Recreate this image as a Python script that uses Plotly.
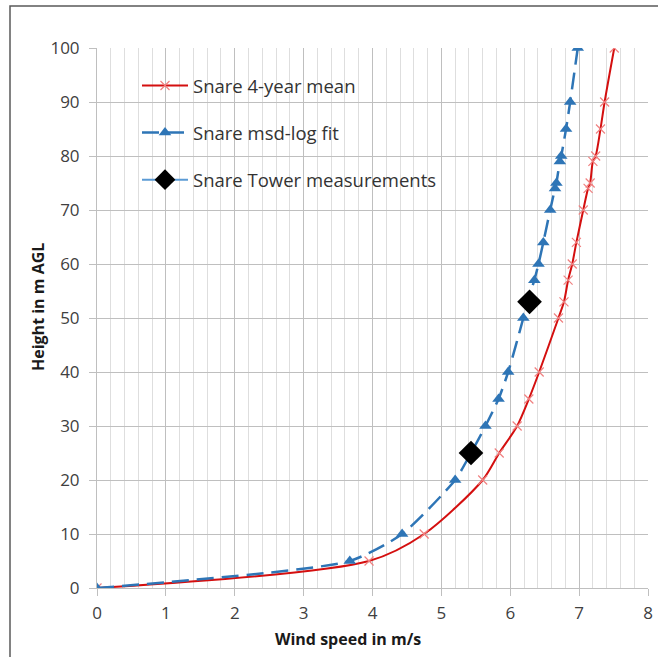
import plotly.graph_objects as go

heights = [0, 5, 10, 20, 25, 30, 35, 40, 50, 53, 57, 60, 64, 70, 74, 75, 79, 80, 85, 90, 100]
mean_ws = [0, 3.95, 4.75, 5.6, 5.84, 6.1, 6.27, 6.42, 6.7, 6.78, 6.84, 6.9, 6.96, 7.06, 7.13, 7.16, 7.2, 7.24, 7.31, 7.37, 7.51]
fit_ws = [0, 3.67, 4.43, 5.2, 5.43, 5.64, 5.83, 5.97, 6.19, 6.25, 6.35, 6.41, 6.48, 6.58, 6.65, 6.67, 6.72, 6.74, 6.81, 6.87, 6.98]
tower_h = [25, 53]
tower_ws = [5.43, 6.28]

x_ticks = [0, 1, 2, 3, 4, 5, 6, 7, 8]
y_ticks = [0, 10, 20, 30, 40, 50, 60, 70, 80, 90, 100]

RED = "#D40F0F"
BLUE = "#2E75B6"
LBLUE = "#5B9BD5"
FONT = "Open Sans"

W, H = 658, 657
ML, MR, MT, MB = 97, 10, 48, 69
PW, PH = W - ML - MR, H - MT - MB
OFF = 0


def px(xp):
    return (xp - OFF - ML) / PW


def py(yp):
    return (PH + MT - (yp - OFF)) / PH


fig = go.Figure()
fig.add_trace(go.Scatter(
    x=mean_ws, y=heights, mode="lines+markers", name="Snare 4-year mean",
    line=dict(color=RED, width=2, shape="spline", smoothing=0.8),
    marker=dict(symbol="x-thin", size=9, line=dict(color="#F08080", width=1.2), color="#F08080"),
    legendgroup="a",
))
fig.add_trace(go.Scatter(
    x=fit_ws, y=heights, mode="lines+markers", name="Snare msd-log fit",
    line=dict(color=BLUE, width=2.5, dash="17px,8px", shape="spline", smoothing=0.6),
    marker=dict(symbol="triangle-up", size=11, color=BLUE),
    legendgroup="b",
))
fig.add_trace(go.Scatter(
    x=tower_ws, y=tower_h, mode="markers", name="Snare Tower measurements",
    marker=dict(symbol="diamond", size=19, color="black"),
    showlegend=False, legendgroup="c",
))
fig.add_trace(go.Scatter(
    x=[None], y=[None], mode="lines+markers", name="Snare Tower measurements",
    line=dict(color=LBLUE, width=2),
    marker=dict(symbol="diamond", size=17, color="black"),
    legendgroup="c",
))

grid_major = "#BFBFBF"
grid_minor = "#DEDEDE"

fig.update_layout(
    width=W, height=H,
    margin=dict(l=ML, r=MR, t=MT, b=MB),
    paper_bgcolor="white", plot_bgcolor="white",
    font=dict(family=FONT, size=17, color="#404040"),
    showlegend=True,
    legend=dict(
        x=px(137), y=py(67), xanchor="left", yanchor="top",
        bgcolor="rgba(255,255,255,0)", font=dict(family=FONT, size=18.5, color="#333333"),
        traceorder="grouped", tracegroupgap=20, itemwidth=46,
    ),
    xaxis=dict(
        range=[0, 8], tickvals=x_ticks, ticktext=[str(v) for v in x_ticks],
        showgrid=True, gridcolor=grid_major, gridwidth=1,
        minor=dict(dtick=0.2, showgrid=True, gridcolor=grid_minor, gridwidth=1),
        ticks="outside", ticklen=7, tickcolor=grid_major,
        showline=True, linecolor=grid_major, zeroline=False,
        automargin=False, ticklabelstandoff=3,
        tickfont=dict(family=FONT, size=17, color="#404040"),
    ),
    yaxis=dict(
        range=[0, 100], tickvals=y_ticks, ticktext=[str(v) for v in y_ticks],
        showgrid=True, gridcolor=grid_major, gridwidth=1,
        ticks="outside", ticklen=7, tickcolor=grid_major,
        showline=True, linecolor=grid_major, zeroline=False,
        automargin=False, ticklabelstandoff=6,
        tickfont=dict(family=FONT, size=17, color="#404040"),
    ),
    annotations=[
        dict(text="<b>Wind speed in m/s</b>", xref="paper", yref="paper",
             x=px(348), y=py(639), xanchor="center", yanchor="middle", showarrow=False,
             font=dict(family=FONT, size=16, color="#1a1a1a")),
        dict(text="<b>Height in m AGL</b>", xref="paper", yref="paper",
             x=px(38), y=py(307), xanchor="center", yanchor="middle", showarrow=False,
             textangle=-90, font=dict(family=FONT, size=16, color="#1a1a1a")),
    ],
    shapes=[dict(
        type="rect", xref="paper", yref="paper",
        x0=px(10), x1=px(690), y0=py(690), y1=py(6),
        line=dict(color="#595959", width=1.5), fillcolor="rgba(0,0,0,0)", layer="below",
    )],
)

fig.write_html(
    "out.html",
    config={"displayModeBar": False},
    post_script="document.body.style.margin='0';document.body.style.overflow='hidden';",
)
